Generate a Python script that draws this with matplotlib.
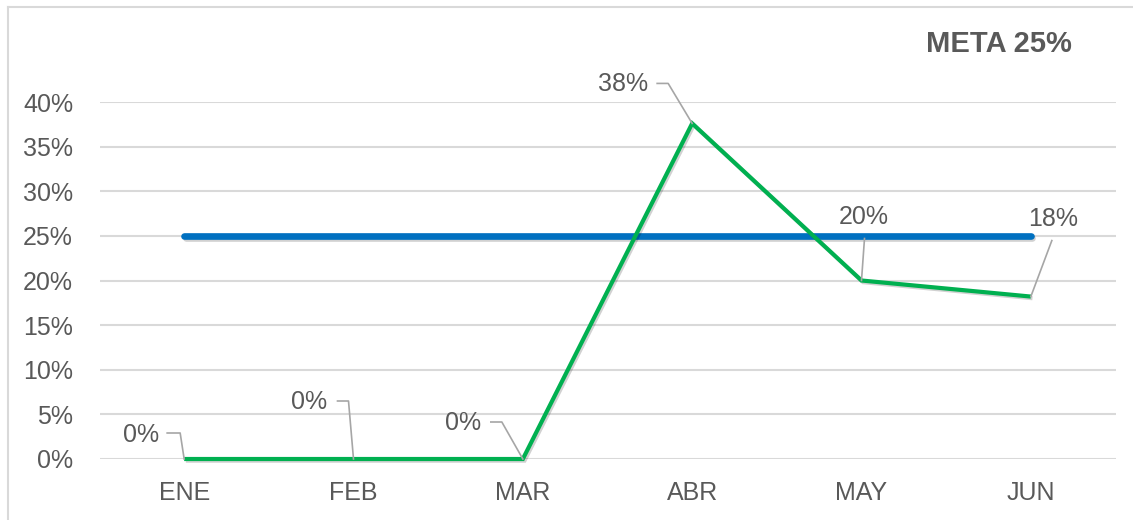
import matplotlib
matplotlib.use("Agg")
import matplotlib.pyplot as plt
import matplotlib.patheffects as pe
from matplotlib.lines import Line2D
from matplotlib.transforms import IdentityTransform
from matplotlib.ticker import FuncFormatter

months = ["ENE", "FEB", "MAR", "ABR", "MAY", "JUN"]
actual = [0.0, 0.0, 0.0, 0.376, 0.20, 0.182]
actual_labels = ["0%", "0%", "0%", "38%", "20%", "18%"]
target = [0.25, 0.25, 0.25, 0.25, 0.25, 0.25]
title_text = "META 25%"

GREEN = "#00B050"
BLUE = "#0070C0"
TEXT = "#595959"
GRID = "#D9D9D9"
LEADER = "#A6A6A6"
FS = 18

plt.rcParams["font.family"] = ["Liberation Sans", "DejaVu Sans"]

W, H = 1133, 520
fig = plt.figure(figsize=(W / 100, H / 100), dpi=100)
fig.patch.set_facecolor("white")

# plot area
left, right, top, bottom = 99.5, 1115.5, 102, 459
ax = fig.add_axes([left / W, 1 - bottom / H, (right - left) / W, (bottom - top) / H])
ax.set_xlim(-0.5, len(months) - 0.5)
ax.set_ylim(0, 0.40)
ax.set_yticks([i * 0.05 for i in range(9)])
ax.yaxis.set_major_formatter(FuncFormatter(lambda v, _: f"{v * 100:.0f}%"))
ax.set_xticks(range(len(months)))
ax.set_xticklabels(months)
ax.grid(axis="y", color=GRID, linewidth=1.5)
ax.set_axisbelow(True)
for s in ax.spines.values():
    s.set_visible(False)
ax.tick_params(axis="both", length=0, labelsize=FS, labelcolor=TEXT)
ax.tick_params(axis="y", pad=19)
ax.tick_params(axis="x", pad=16)

shadow = [pe.SimpleLineShadow(offset=(1.2, -1.2), alpha=0.18, shadow_color="black"), pe.Normal()]
x = list(range(len(months)))
ax.plot(x, target, color=BLUE, linewidth=4.8, solid_capstyle="round",
        path_effects=shadow, zorder=3, clip_on=False)
ax.plot(x, actual, color=GREEN, linewidth=3.0, solid_capstyle="butt",
        solid_joinstyle="miter", path_effects=shadow, zorder=4, clip_on=False)

# data labels with leader lines (offsets in pixels: right, down)
label_offsets = [(-43, -24), (-44, -57), (-60, -36), (-69, -39), (2, -63), (22, -78)]
leader_paths = [
    [(-17, -26), (-4, -26), (0, 0)],
    [(-16, -58), (-5, -58), (0, 0)],
    [(-32, -37), (-21, -37), (0, 0)],
    [(-35, -40), (-24, -40), (0, 0)],
    [(3, -42), (0, 0)],
    [(21, -56), (0, 0)],
]
for i, (val, txt) in enumerate(zip(actual, actual_labels)):
    px, py = ax.transData.transform((i, val))
    pts = leader_paths[i]
    xs = [px + dx for dx, dy in pts]
    ys = [py - dy for dx, dy in pts]
    fig.add_artist(Line2D(xs, ys, transform=IdentityTransform(), color=LEADER,
                          linewidth=1.2, zorder=5))
    lx, ly = label_offsets[i]
    fig.text(px + lx, py - ly, txt, transform=IdentityTransform(), fontsize=FS,
             color=TEXT, ha="center", va="center", zorder=6)

# title
fig.text(999 / W, 1 - 44 / H, title_text, fontsize=21, fontweight="bold",
         color=TEXT, ha="center", va="center")

# chart frame
fig.add_artist(Line2D([8 / W, 8 / W], [0, 1 - 7 / H], transform=fig.transFigure,
                      color=GRID, linewidth=1.5))
fig.add_artist(Line2D([8 / W, 1], [1 - 7 / H, 1 - 7 / H], transform=fig.transFigure,
                      color=GRID, linewidth=1.5))

fig.savefig("out.png", dpi=100, facecolor="white")
